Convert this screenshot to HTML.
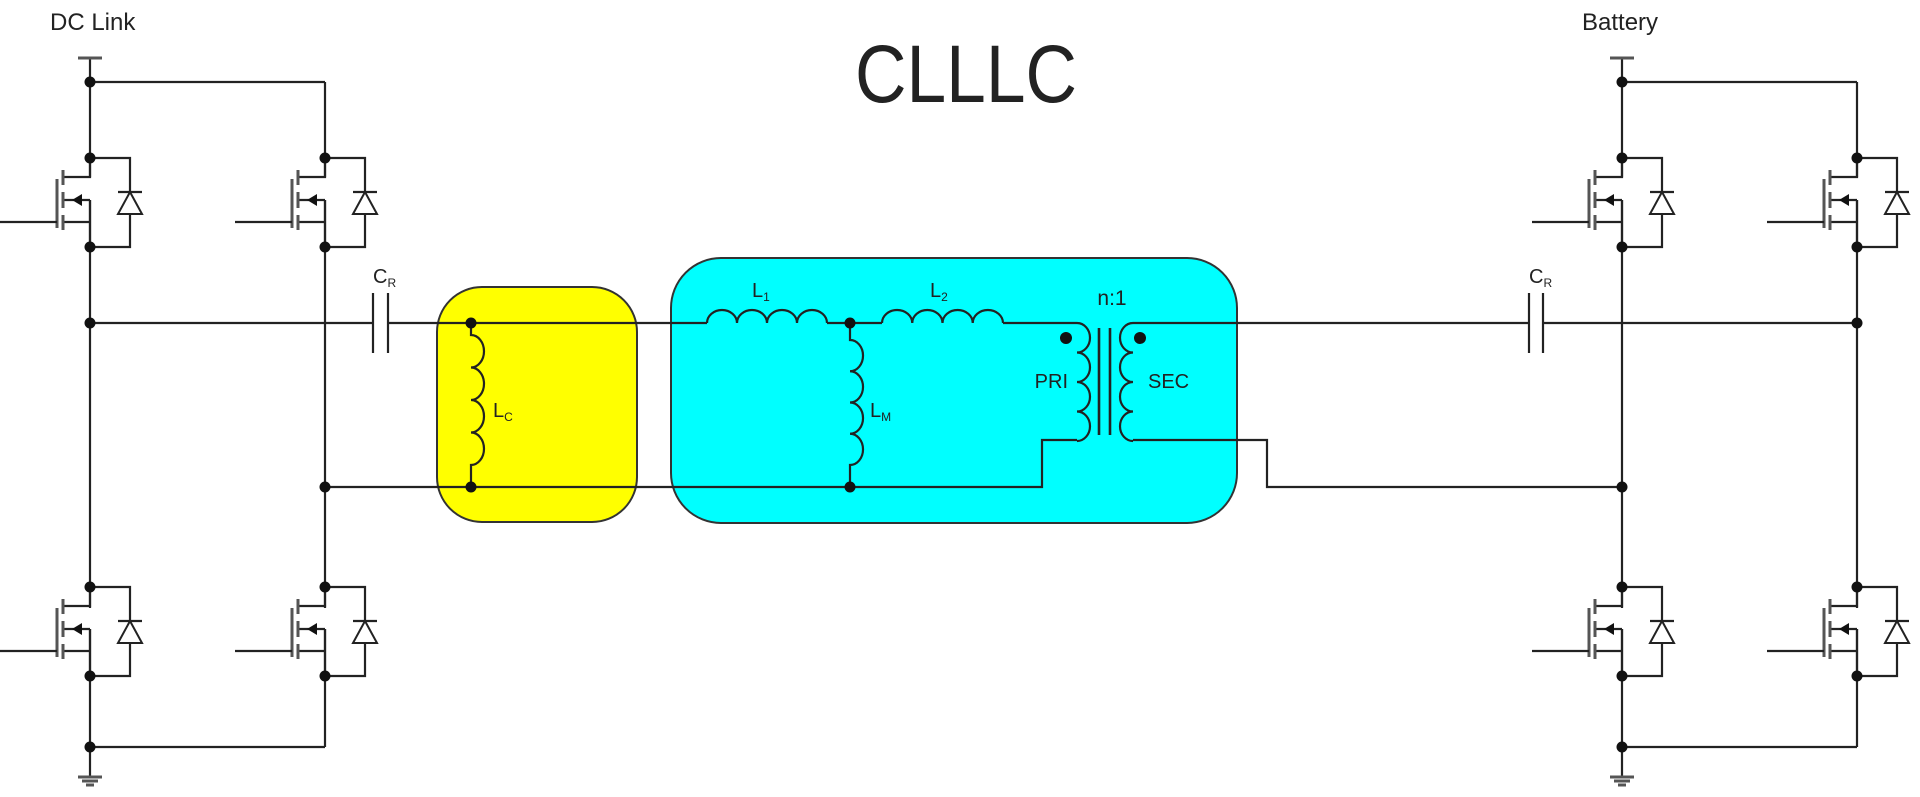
<!DOCTYPE html>
<html><head><meta charset="utf-8"><style>
html,body{margin:0;padding:0;background:#fff;}
svg{display:block;}
text{font-family:"Liberation Sans",sans-serif;fill:#222;}
</style></head><body>
<svg width="1920" height="797" viewBox="0 0 1920 797" xmlns="http://www.w3.org/2000/svg">
<rect width="1920" height="797" fill="#fff"/>
<!-- boxes -->
<rect x="437" y="287" width="200" height="235" rx="45" fill="#ffff00" stroke="#333" stroke-width="2"/>
<rect x="671" y="258" width="566" height="265" rx="50" fill="#00ffff" stroke="#333" stroke-width="2"/>

<g stroke="#222" stroke-width="2.2" fill="none">
<!-- legs -->
<path d="M90,58V177 M90,200V608 M90,629V747 M90,747V777"/>
<path d="M325,82V177 M325,200V608 M325,629V747"/>
<path d="M1622,58V177 M1622,200V608 M1622,629V747 M1622,747V777"/>
<path d="M1857,82V177 M1857,200V608 M1857,629V747"/>
<!-- rails -->
<path d="M90,82H325 M90,747H325 M1622,82H1857 M1622,747H1857"/>
<!-- top wire -->
<path d="M90,323H373 M388,323H707 M827,323H882 M1003,323H1077"/>
<path d="M1133,323H1529 M1543,323H1857"/>
<!-- bottom wire -->
<path d="M325,487H1042V440H1077"/>
<path d="M1133,440H1267V487H1622"/>
<!-- caps -->
<path d="M373,293V353 M388,293V353 M1529,293V353 M1543,293V353"/>
<!-- inductors -->
<path d="M707,323 a15,13 0 0 1 30,0 a15,13 0 0 1 30,0 a15,13 0 0 1 30,0 a15,13 0 0 1 30,0"/>
<path d="M882,323 a15.1,13 0 0 1 30.25,0 a15.1,13 0 0 1 30.25,0 a15.1,13 0 0 1 30.25,0 a15.1,13 0 0 1 30.25,0"/>
<path d="M471,323V335 a13,16.25 0 0 1 0,32.5 a13,16.25 0 0 1 0,32.5 a13,16.25 0 0 1 0,32.5 a13,16.25 0 0 1 0,32.5 V487"/>
<path d="M850,323V340 a13,15.6 0 0 1 0,31.25 a13,15.6 0 0 1 0,31.25 a13,15.6 0 0 1 0,31.25 a13,15.6 0 0 1 0,31.25 V487"/>
<path d="M1077,323 a13,14.75 0 0 1 0,29.5 a13,14.75 0 0 1 0,29.5 a13,14.75 0 0 1 0,29.5 a13,14.75 0 0 1 0,29.5"/>
<path d="M1133,323 a13,14.75 0 0 0 0,29.5 a13,14.75 0 0 0 0,29.5 a13,14.75 0 0 0 0,29.5 a13,14.75 0 0 0 0,29.5"/>
<!-- core -->
<path d="M1099,328V435 M1110,328V435" stroke-width="2.6"/>
</g>

<!-- supplies and grounds -->
<g stroke="#555" stroke-width="3">
<path d="M78,58H102 M1610,58H1634"/>
<path d="M78,777H102 M82,781H98 M86,785H94"/>
<path d="M1610,777H1634 M1614,781H1630 M1618,785H1626"/>
</g>

<!-- mosfets -->
<defs>
<g id="m">
<g stroke="#222" stroke-width="2.2" fill="none">
<path d="M0,0V19H-27 M0,42H-10 M0,42V64H-27 M0,64V89 M-27,42H-16"/>
<path d="M0,0H40V89H0"/>
<path d="M28,34H52"/>
</g>
<path d="M40,34L28,56H52Z" fill="#fff" stroke="#222" stroke-width="2"/>
<path d="M-27,12V27 M-27,34V50 M-27,57V72" stroke="#555" stroke-width="3"/>
<path d="M-33,21V70" stroke="#555" stroke-width="3"/>
<path d="M-33,64H-90" stroke="#222" stroke-width="2.2"/>
<path d="M-18,42L-8,36V48Z" fill="#111"/>
<circle cx="0" cy="0" r="5.5" fill="#111"/>
<circle cx="0" cy="89" r="5.5" fill="#111"/>
</g>
</defs>
<use href="#m" x="90" y="158"/>
<use href="#m" x="325" y="158"/>
<use href="#m" x="90" y="587"/>
<use href="#m" x="325" y="587"/>
<use href="#m" x="1622" y="158"/>
<use href="#m" x="1857" y="158"/>
<use href="#m" x="1622" y="587"/>
<use href="#m" x="1857" y="587"/>

<!-- junction nodes -->
<g fill="#111">
<circle cx="90" cy="82" r="5.5"/><circle cx="90" cy="747" r="5.5"/>
<circle cx="1622" cy="82" r="5.5"/><circle cx="1622" cy="747" r="5.5"/>
<circle cx="90" cy="323" r="5.5"/><circle cx="325" cy="487" r="5.5"/>
<circle cx="471" cy="323" r="5.5"/><circle cx="471" cy="487" r="5.5"/>
<circle cx="850" cy="323" r="5.5"/><circle cx="850" cy="487" r="5.5"/>
<circle cx="1857" cy="323" r="5.5"/><circle cx="1622" cy="487" r="5.5"/>
<circle cx="1066" cy="338" r="6"/><circle cx="1140" cy="338" r="6"/>
</g>

<!-- labels -->
<text x="50" y="30" font-size="24">DC Link</text>
<text x="1582" y="30" font-size="24">Battery</text>
<text x="855" y="102" font-size="82" textLength="222" lengthAdjust="spacingAndGlyphs">CLLLC</text>
<text x="373" y="283" font-size="20">C<tspan font-size="12" dy="4">R</tspan></text>
<text x="1529" y="283" font-size="20">C<tspan font-size="12" dy="4">R</tspan></text>
<text x="752" y="297" font-size="20">L<tspan font-size="12" dy="4">1</tspan></text>
<text x="930" y="297" font-size="20">L<tspan font-size="12" dy="4">2</tspan></text>
<text x="493" y="417" font-size="20">L<tspan font-size="12" dy="4">C</tspan></text>
<text x="870" y="417" font-size="20">L<tspan font-size="12" dy="4">M</tspan></text>
<text x="1112" y="305" font-size="21" text-anchor="middle">n:1</text>
<text x="1068" y="388" font-size="20" text-anchor="end">PRI</text>
<text x="1148" y="388" font-size="20">SEC</text>
</svg>
</body></html>
